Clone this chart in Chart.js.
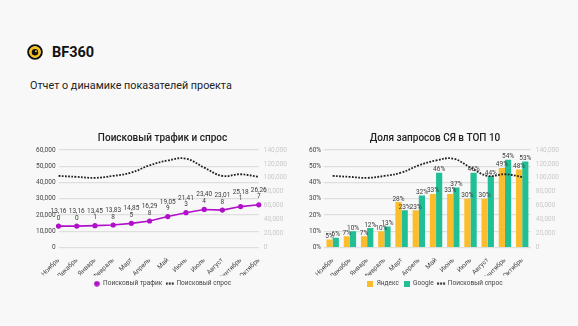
<!DOCTYPE html>
<html><head><meta charset="utf-8">
<script src="https://cdn.jsdelivr.net/npm/chart.js@4/dist/chart.umd.min.js"></script>
<style>
html,body{margin:0;padding:0;background:#f8f8f8;font-family:Roboto,"Noto Sans",sans-serif;}
#page{position:relative;width:578px;height:326px;overflow:hidden;}
#logo{position:absolute;left:27px;top:44px;width:16px;height:16px;}
#brand{position:absolute;left:52px;top:43.5px;font-size:14.5px;font-weight:700;color:#111;line-height:17px;}
#sub{position:absolute;left:30px;top:79px;font-size:10.8px;color:#222;}
.box{position:absolute;}
</style></head><body>
<div id="page">
<svg id="logo" viewBox="0 0 18 18"><circle cx="9" cy="9" r="7.6" fill="none" stroke="#111" stroke-width="2.4"/><circle cx="9" cy="9" r="6.4" fill="#f7c31a"/><circle cx="9" cy="9.3" r="3.6" fill="#111"/><circle cx="10.1" cy="8.1" r="1.1" fill="#f7c31a"/></svg>
<div id="brand">BF360</div>
<div id="sub">Отчет о динамике показателей проекта</div>
<div class="box" style="left:33px;top:128px;width:259px;height:169px;"><canvas id="c1"></canvas></div>
<div class="box" style="left:306px;top:128px;width:258px;height:169px;"><canvas id="c2"></canvas></div>
</div>
<script>
const months = ['Ноябрь','Декабрь','Январь','Февраль','Март','Апрель','Май','Июнь','Июль','Август','Сентябрь','Октябрь'];
const traffic = [13160,13160,13451,13838,14855,16298,19059,21413,23404,23018,25181,26267];
const demand = [102800,101400,100000,102800,107600,118000,125000,127600,114700,102800,105200,101400];
const yandex = [5,7,7,10,28,23,33,33,30,30,49,48];
const google = [6,10,12,13,23,32,46,37,46,44,54,53];
const leftTicks1 = [0,10000,20000,30000,40000,50000,60000];
const rightTicks = [0,20000,40000,60000,80000,100000,120000,140000];

const FONT = 'Roboto, "Noto Sans", sans-serif';
const PURPLE = '#b20fcb', YEL = '#fbbd2b', GRN = '#20bf95', DARK = '#222';
const FS = 6.5;

function mk(w, h, draw) { const c = document.createElement('canvas'); c.width = w; c.height = h; draw(c.getContext('2d')); return c; }
const icoCircle = mk(6, 6, g => { g.fillStyle = PURPLE; g.beginPath(); g.arc(3, 3, 2.8, 0, Math.PI * 2); g.fill(); });
const icoDots = mk(9, 3, g => { g.fillStyle = DARK; for (let i = 0; i < 3; i++) g.fillRect(i * 3, 0.5, 2, 2); });
const icoY = mk(6, 6, g => { g.fillStyle = YEL; g.fillRect(0, 0, 6, 6); });
const icoG = mk(6, 6, g => { g.fillStyle = GRN; g.fillRect(0, 0, 6, 6); });

const labelPlugin = {
  id: 'vlabels',
  afterDatasetsDraw(chart) {
    const ctx = chart.ctx;
    ctx.save();
    ctx.font = FS + 'px ' + FONT;
    ctx.fillStyle = '#3a3a3a';
    ctx.textAlign = 'center';
    ctx.textBaseline = 'alphabetic';
    chart.data.datasets.forEach((ds, di) => {
      if (!ds.showLabels) return;
      const meta = chart.getDatasetMeta(di);
      meta.data.forEach((el, i) => {
        const v = ds.data[i];
        if (ds.labelMode === 'split') {
          const s = v.toLocaleString('en-US');
          ctx.fillText(s.slice(0, 5), el.x, el.y - 13);
          ctx.fillText(s.slice(5), el.x, el.y - 6.5);
        } else {
          ctx.fillText(v + '%', el.x, el.y - 1.5);
        }
      });
    });
    ctx.restore();
  }
};

function scales(leftCfg) {
  return {
    x: {
      grid: {display: false}, border: {display: false},
      ticks: {font: {size: FS, family: FONT}, color: '#444', minRotation: 45, maxRotation: 45, padding: 1, autoSkip: false},
      afterFit: ax => { ax.height = 28; }
    },
    y: Object.assign({
      position: 'left',
      border: {display: false},
      grid: {color: '#dedede', lineWidth: 1.2, drawTicks: false},
    }, leftCfg),
    y2: {
      position: 'right', min: 0, max: 140000,
      border: {display: false},
      grid: {display: false, drawTicks: false},
      afterBuildTicks: ax => { ax.ticks = rightTicks.map(v => ({value: v})); },
      ticks: {font: {size: FS, family: FONT}, color: '#c9c9c9', padding: 5,
        callback: v => v.toLocaleString('en-US')}
    }
  };
}

const legendCfg = (icons) => ({
  position: 'bottom',
  labels: {
    usePointStyle: true, boxWidth: 6, boxHeight: 6, font: {size: FS, family: FONT}, color: '#444', padding: 5,
    generateLabels: chart => chart.data.datasets.map((ds, i) => ({
      text: ds.label, datasetIndex: i, pointStyle: icons[i], fillStyle: 'transparent', strokeStyle: 'transparent',
      lineWidth: 0, fontColor: '#444', hidden: false
    }))
  }
});
const titleCfg = (t) => ({display: true, text: t, font: {size: 10, weight: '500', family: FONT}, color: '#222', padding: {top: 4, bottom: 6}});

new Chart(document.getElementById('c1'), {
  type: 'line',
  data: {
    labels: months,
    datasets: [
      {label: 'Поисковый трафик', data: traffic, yAxisID: 'y', borderColor: PURPLE, backgroundColor: PURPLE,
       borderWidth: 1.6, pointRadius: 1.8, pointStyle: 'circle', tension: 0, showLabels: true, labelMode: 'split'},
      {label: 'Поисковый спрос', data: demand, yAxisID: 'y2', borderColor: DARK, backgroundColor: DARK,
       borderWidth: 1.8, borderDash: [1.8, 1.4], pointRadius: 0, tension: 0.4}
    ]
  },
  options: {
    animation: false, responsive: true, maintainAspectRatio: false,
    plugins: {legend: legendCfg([icoCircle, icoDots]), title: titleCfg('Поисковый трафик и спрос'), tooltip: {enabled: false}},
    scales: scales({min: 0, max: 60000,
      afterBuildTicks: ax => { ax.ticks = leftTicks1.map(v => ({value: v})); },
      ticks: {font: {size: FS, family: FONT}, color: '#444', padding: 3, callback: v => v.toLocaleString('en-US')}})
  },
  plugins: [labelPlugin]
});

new Chart(document.getElementById('c2'), {
  type: 'bar',
  data: {
    labels: months,
    datasets: [
      {type: 'bar', label: 'Яндекс', data: yandex, yAxisID: 'y', backgroundColor: YEL,
       categoryPercentage: 0.72, barPercentage: 1, showLabels: true, order: 2},
      {type: 'bar', label: 'Google', data: google, yAxisID: 'y', backgroundColor: GRN,
       categoryPercentage: 0.72, barPercentage: 1, showLabels: true, order: 2},
      {type: 'line', label: 'Поисковый спрос', data: demand, yAxisID: 'y2', borderColor: DARK, backgroundColor: DARK,
       borderWidth: 1.8, borderDash: [1.8, 1.4], pointRadius: 0, tension: 0.4, order: 1}
    ]
  },
  options: {
    animation: false, responsive: true, maintainAspectRatio: false,
    plugins: {legend: legendCfg([icoY, icoG, icoDots]), title: titleCfg('Доля запросов СЯ в ТОП 10'), tooltip: {enabled: false}},
    scales: scales({min: 0, max: 60,
      ticks: {stepSize: 10, font: {size: FS, family: FONT}, color: '#444', padding: 3, callback: v => v + '%'}})
  },
  plugins: [labelPlugin]
});
</script>
</body></html>
